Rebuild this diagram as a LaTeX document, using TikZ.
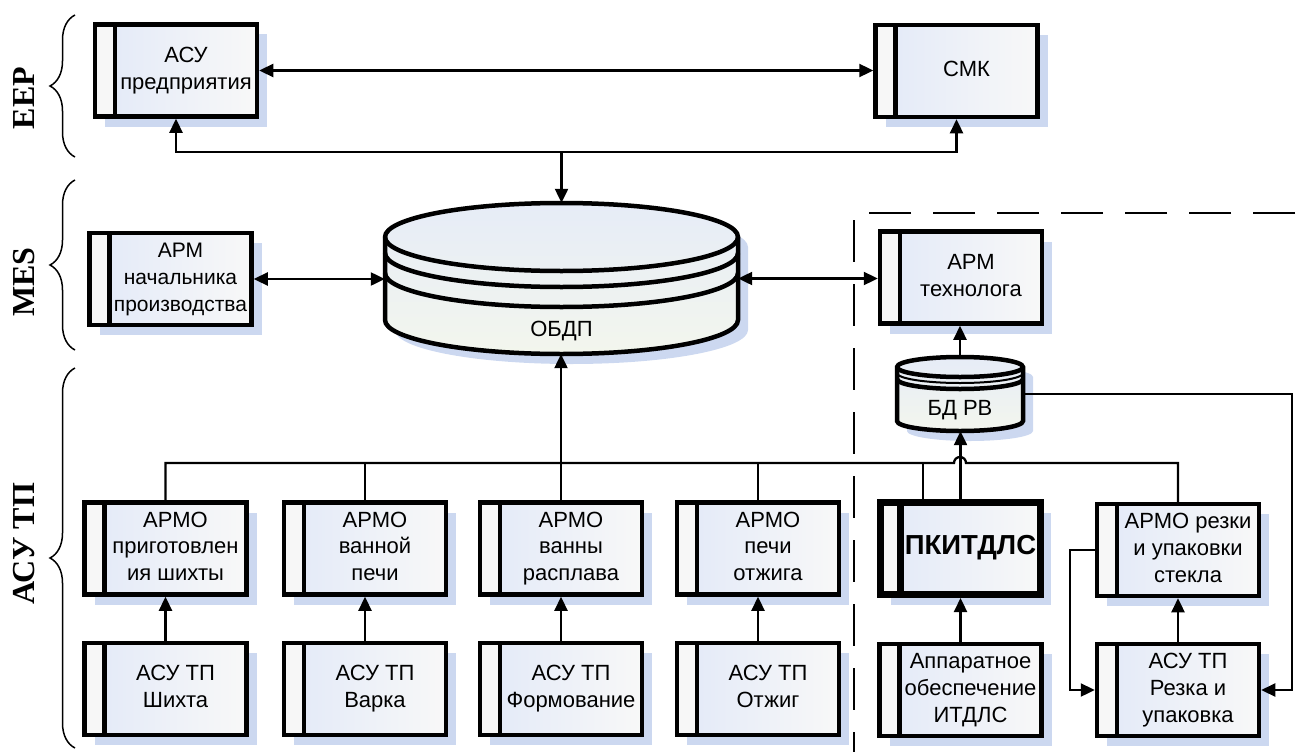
\documentclass[tikz,border=0pt]{standalone}
\usepackage{fontspec}
\setmainfont{Liberation Sans}
\newfontfamily\labelserif{Liberation Serif}
\usetikzlibrary{arrows.meta,shadows,decorations.pathreplacing,calc}

\definecolor{boxA}{RGB}{226,233,248}
\definecolor{boxB}{RGB}{248,248,248}
\definecolor{stripec}{RGB}{247,247,247}
\definecolor{shadowc}{RGB}{204,216,240}
\definecolor{cylA}{RGB}{230,236,247}
\definecolor{cylB}{RGB}{243,246,237}

\newcommand\boxfont{\fontsize{22}{26.7}\selectfont}
\newcommand\btext[1]{\hspace*{20pt}\begin{tabular}{@{}c@{}}#1\end{tabular}}

\tikzset{
  stripew/.store in=\stripew, stripew=4.5pt,
  ubox/.style={draw, line width=4.5pt, minimum width=162pt, minimum height=92pt,
    inner sep=0pt, left color=boxA, right color=boxB, font=\boxfont,
    general shadow={fill=shadowc, shadow xshift=10pt, shadow yshift=-10pt},
    path picture={
      \fill[stripec] (path picture bounding box.north west) rectangle
        ([xshift=20pt]path picture bounding box.south west);
      \draw[line width=\stripew] ([xshift=20pt]path picture bounding box.north west)
        -- ([xshift=20pt]path picture bounding box.south west);}},
  conn/.style={line width=2.3pt},
  arr/.style={conn, -{Triangle[length=14pt,width=13pt]}},
  both/.style={conn, {Triangle[length=14pt,width=13pt]}-{Triangle[length=14pt,width=13pt]}},
  cylline/.style={line width=4.5pt},
  levelbrace/.style={line width=1.5pt, decorate, decoration={brace, amplitude=25pt}},
  levellabel/.style={rotate=90, font=\labelserif\bfseries\fontsize{32}{36}\selectfont},
  dashline/.style={line width=2.5pt, dash pattern=on 42pt off 22pt},
  ghost/.style={inner sep=0pt},
}

\begin{document}
\begin{tikzpicture}[x=1pt,y=-1pt]
\useasboundingbox (0,0) rectangle (1308,752);

% level braces and labels
\draw[levelbrace] (75,157) -- (75,15);
\draw[levelbrace] (75,350) -- (75,180);
\draw[levelbrace] (75,748) -- (75,368);
\node[levellabel] (lvl-eep) at (24,98) {EEP};
\node[levellabel] (lvl-mes) at (24,282) {MES};
\node[levellabel] (lvl-asutp) at (24,544) {АСУ ТП};

% boundary of the line subsystem
\draw[dashline] (1295,213) -- (854,213) -- (854,752);

% central database ОБДП
\fill[shadowc] (395,247) -- ++(0,83)
  arc[start angle=180,end angle=360,x radius=176.5pt,y radius=34pt]
  -- ++(0,-83) arc[start angle=0,end angle=180,x radius=176.5pt,y radius=34pt] -- cycle;
\draw[cylline, top color=cylA, bottom color=cylB] (385,237) -- (385,320)
  arc[start angle=180,end angle=360,x radius=176.5pt,y radius=34pt]
  -- (738,237) arc[start angle=0,end angle=180,x radius=176.5pt,y radius=34pt] -- cycle;
\draw[cylline] (385,237) arc[start angle=180,end angle=360,x radius=176.5pt,y radius=34pt];
\draw[cylline] (385,253) arc[start angle=180,end angle=360,x radius=176.5pt,y radius=34pt];
\draw[cylline] (385,273) arc[start angle=180,end angle=360,x radius=176.5pt,y radius=34pt];
\node[ghost, minimum width=353pt, minimum height=151pt] (obdp) at (561.5,278.5) {};
\node[font=\boxfont] (obdp-t) at (561.5,331) {ОБДП};

% real-time database БД РВ
\fill[shadowc] (907,377) -- ++(0,54)
  arc[start angle=180,end angle=360,x radius=63pt,y radius=10pt]
  -- ++(0,-54) arc[start angle=0,end angle=180,x radius=63pt,y radius=10pt] -- cycle;
\draw[cylline, top color=cylA, bottom color=cylB] (897,367) -- (897,421)
  arc[start angle=180,end angle=360,x radius=63pt,y radius=10pt]
  -- (1023,367) arc[start angle=0,end angle=180,x radius=63pt,y radius=10pt] -- cycle;
\draw[cylline] (897,367) arc[start angle=180,end angle=360,x radius=63pt,y radius=10pt];
\draw[line width=2pt] (897,373) arc[start angle=180,end angle=360,x radius=63pt,y radius=10pt];
\draw[cylline] (897,379) arc[start angle=180,end angle=360,x radius=63pt,y radius=10pt];
\node[ghost, minimum width=126pt, minimum height=74pt] (bdrv) at (960,394) {};
\node[font=\boxfont] (bdrv-t) at (960,410) {БД РВ};

% enterprise level
\node[ubox] (asu) at (176,70.5) {\btext{АСУ\\предприятия}};
\node[ubox] (smk) at (956.5,71) {\btext{СМК}};

% MES level
\node[ubox, font=\fontsize{21}{26.7}\selectfont] (armnach) at (170.5,279)
  {\btext{АРМ\\начальника\\производства}};
\node[ubox] (armtech) at (961,277.5) {\btext{АРМ\\технолога}};

% workstations of the process control level
\node[ubox] (armo1) at (165.5,548.5) {\btext{АРМО\\приготовлен\\ия шихты}};
\node[ubox] (armo2) at (365,548.5) {\btext{АРМО\\ванной\\печи}};
\node[ubox] (armo3) at (561,548.5) {\btext{АРМО\\ванны\\расплава}};
\node[ubox] (armo4) at (758,548.5) {\btext{АРМО\\печи\\отжига}};
\node[ubox, line width=7pt, stripew=7pt, minimum width=160pt,
  font=\bfseries\fontsize{27.5}{30}\selectfont] (pkit) at (960.5,548.5) {\btext{ПКИТДЛС}};
\node[ubox] (armorez) at (1178,550) {\btext{АРМО резки\\и упаковки\\стекла}};

% process control systems
\node[ubox] (asu1) at (165.5,689) {\btext{АСУ ТП\\Шихта}};
\node[ubox] (asu2) at (365,689) {\btext{АСУ ТП\\Варка}};
\node[ubox] (asu3) at (561,689) {\btext{АСУ ТП\\Формование}};
\node[ubox] (asu4) at (758,689) {\btext{АСУ ТП\\Отжиг}};
\node[ubox] (hw) at (960.5,690) {\btext{Аппаратное\\обеспечение\\ИТДЛС}};
\node[ubox] (asurez) at (1178,690) {\btext{АСУ ТП\\Резка и\\упаковка}};

% connectors: enterprise level
\coordinate (j1) at (561.5,152);
\draw[both] (asu.east) -- (asu.east -| smk.west);
\draw[arr] (j1) -| (asu.south);
\draw[arr] (j1) -| (smk.south);
\draw[arr] (j1) -- (obdp.north);

% connectors: MES level
\draw[both] (armnach.east) -- (armnach.east -| obdp.west);
\draw[both] (obdp.east) -- (obdp.east -| armtech.west);
\draw[arr] (bdrv.north) -- (bdrv.north |- armtech.south);

% common bus of the workstations
\coordinate (bus) at (0,463);
\coordinate (hopL) at (954,463);
\draw[conn] (armo1.north) |- (hopL)
  arc[start angle=180,end angle=0,radius=6pt] -| (armorez.north);
\draw[conn] (armo2.north) -- (armo2.north |- bus);
\draw[conn] (armo4.north) -- (armo4.north |- bus);
\draw[conn] ([xshift=-37.5pt]pkit.north) -- ([xshift=-37.5pt]pkit.north |- bus);
\draw[arr] (armo3.north) -- (armo3.north |- obdp.south);
\draw[arr] (pkit.north) -- (pkit.north |- bdrv.south);

% connectors: process control level
\draw[arr] (asu1.north) -- (armo1.south);
\draw[arr] (asu2.north) -- (armo2.south);
\draw[arr] (asu3.north) -- (armo3.south);
\draw[arr] (asu4.north) -- (armo4.south);
\draw[arr] (hw.north) -- (hw.north |- pkit.south);
\draw[arr] (asurez.north) -- (armorez.south);
\draw[arr] (armorez.west) -- ++(-25,0) |- (asurez.west);
\coordinate (rtrail) at (1292,0);
\draw[arr] (bdrv.east) -- (bdrv.east -| rtrail) -- (rtrail |- asurez.east) -- (asurez.east);
\end{tikzpicture}
\end{document}
